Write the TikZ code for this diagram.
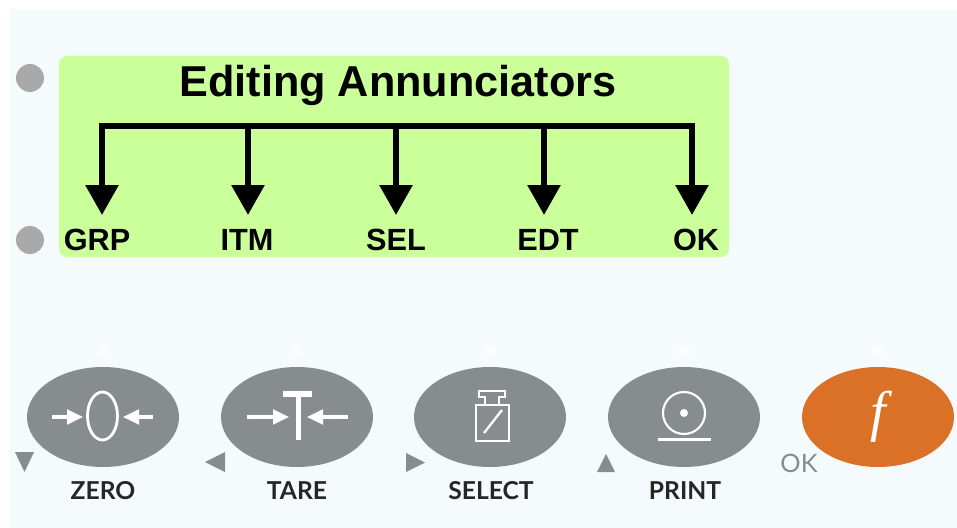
\documentclass[tikz,border=0pt]{standalone}
\usepackage{fontspec}
\setmainfont{Liberation Sans}
\newfontfamily\keyfont{Lato}
\newfontfamily\funcfont{Liberation Serif}
\usetikzlibrary{arrows.meta}
\usetikzlibrary{shapes.geometric}
\definecolor{panelblue}{HTML}{F5FAFD}
\definecolor{lcdgreen}{HTML}{CBFF99}
\definecolor{ledgray}{HTML}{A9A9A9}
\definecolor{keygray}{HTML}{878D8E}
\definecolor{keyorange}{HTML}{DB7027}
\tikzset{
  titletext/.style={anchor=base,inner sep=0pt,font=\fontsize{32.4}{36}\selectfont\bfseries},
  lcdtext/.style={anchor=base,inner sep=0pt,font=\fontsize{23}{26}\selectfont\bfseries},
  keytext/.style={anchor=base,inner sep=0pt,text=black!85,font=\fontsize{18.5}{20}\keyfont\bfseries},
  keyshape/.style={ellipse,fill=keygray,minimum width=114pt,minimum height=75pt,inner sep=0pt},
  lcdarrow/.style={line width=4.5pt,-{Triangle[width=24pt,length=22.5pt]}},
  iconline/.style={white,line width=2.1pt},
  iconarrow/.style={white,line width=2.3pt,-{Triangle[width=11pt,length=12pt]}}
}
\begin{document}
\begin{tikzpicture}[x=.75pt,y=-.75pt]
\useasboundingbox (0,0) rectangle (957,528);
\fill[panelblue] (9,9) rectangle (957,528);
\fill[ledgray] (30,78) circle (10.5pt);
\fill[ledgray] (30,240) circle (10.5pt);
\fill[lcdgreen,rounded corners=6pt] (59,56) rectangle (729,257);

\node[titletext] (title) at (398,97) {Editing Annunciators};
\node[lcdtext] (grp) at (97,250) {GRP};
\node[lcdtext] (itm) at (247,250) {ITM};
\node[lcdtext] (sel) at (396,250) {SEL};
\node[lcdtext] (edt) at (548,250) {EDT};
\node[lcdtext] (ok) at (696,250) {OK};

\coordinate (busgrp) at (102,126);
\coordinate (busitm) at (248,126);
\coordinate (bussel) at (396,126);
\coordinate (busedt) at (544,126);
\coordinate (busok) at (692,126);
\coordinate (tipgrp) at (102,215);
\coordinate (tipitm) at (248,215);
\coordinate (tipsel) at (396,215);
\coordinate (tipedt) at (544,215);
\coordinate (tipok) at (692,215);
\draw[line width=4.5pt,line cap=rect] (busgrp) -- (busok);
\draw[lcdarrow] (busgrp) -- (tipgrp);
\draw[lcdarrow] (busitm) -- (tipitm);
\draw[lcdarrow] (bussel) -- (tipsel);
\draw[lcdarrow] (busedt) -- (tipedt);
\draw[lcdarrow] (busok) -- (tipok);

\node[keyshape] (zero) at (103,417) {};
\node[keyshape] (tare) at (297,417) {};
\node[keyshape] (select) at (490,417) {};
\node[keyshape] (print) at (684,417) {};
\node[keyshape,fill=keyorange] (func) at (878,417) {};

\node[keytext] (zerotext) at (103,499) {ZERO};
\node[keytext] (taretext) at (297,499) {TARE};
\node[keytext] (selecttext) at (491,499) {SELECT};
\node[keytext] (printtext) at (685,499) {PRINT};
\node[anchor=base,inner sep=0pt,text=keygray,font=\fontsize{19}{20}\keyfont] (oktext) at (799,472) {OK};

\fill[keygray] (15,452) -- (34,452) -- (24.5,472) -- cycle;
\fill[keygray] (225,452) -- (225,472) -- (205,462) -- cycle;
\fill[keygray] (406,453) -- (406,472) -- (425,462.5) -- cycle;
\fill[keygray] (597,472) -- (615,472) -- (606,454) -- cycle;

\draw[iconline] (102.5,416) ellipse (15 and 24);
\draw[iconarrow] (52,417) -- (83,417);
\draw[iconarrow] (153,417) -- (123,417);

\fill[white] (283,391) rectangle (312,396.5);
\fill[white] (295.5,391) rectangle (300.5,440);
\draw[iconarrow] (247,417) -- (289,417);
\draw[iconarrow] (348,417) -- (307,417);

\draw[iconline,line width=1.5pt] (476,405) rectangle (509,441);
\draw[iconline,line width=1.5pt] (485,405) -- (485,397) -- (479,397) -- (479,391) -- (505,391) -- (505,397) -- (499,397) -- (499,405);
\draw[iconline,line width=1.7pt] (484,433) -- (502,410);

\draw[iconline,line width=1.6pt] (684,413) ellipse (21 and 21);
\fill[white] (684,413) circle (3pt);
\fill[white] (658,437.5) rectangle (711,440.5);

\node[anchor=base,inner sep=0pt,text=white,font=\fontsize{42}{44}\funcfont\itshape] (ftext) at (878,430) {f};

\fill[white,opacity=.5] (103,350) circle (4.5pt);
\fill[white,opacity=.5] (297,350) circle (4.5pt);
\fill[white,opacity=.5] (490,350) circle (4.5pt);
\fill[white,opacity=.5] (684,350) circle (4.5pt);
\fill[white,opacity=.5] (878,350) circle (4.5pt);
\end{tikzpicture}
\end{document}
